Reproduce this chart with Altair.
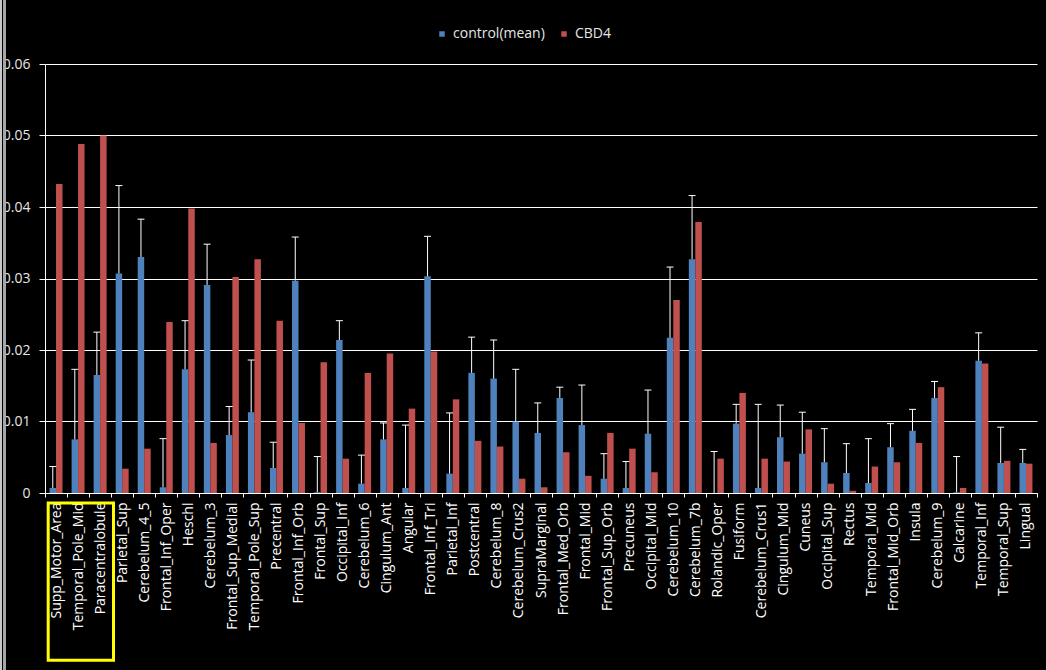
import altair as alt
import pandas as pd

regions = [
    "Supp_Motor_Area", "Temporal_Pole_Mid", "Paracentralobule", "Parietal_Sup",
    "Cerebelum_4_5", "Frontal_Inf_Oper", "Heschl", "Cerebelum_3",
    "Frontal_Sup_Medial", "Temporal_Pole_Sup", "Precentral", "Frontal_Inf_Orb",
    "Frontal_Sup", "Occipital_Inf", "Cerebelum_6", "Cingulum_Ant", "Angular",
    "Frontal_Inf_Tri", "Parietal_Inf", "Postcentral", "Cerebelum_8",
    "Cerebelum_Crus2", "SupraMarginal", "Frontal_Med_Orb", "Frontal_Mid",
    "Frontal_Sup_Orb", "Precuneus", "Occipital_Mid", "Cerebelum_10",
    "Cerebelum_7b", "Rolandic_Oper", "Fusiform", "Cerebelum_Crus1",
    "Cingulum_Mid", "Cuneus", "Occipital_Sup", "Rectus", "Temporal_Mid",
    "Frontal_Mid_Orb", "Insula", "Cerebelum_9", "Calcarine", "Temporal_Inf",
    "Temporal_Sup", "Lingual",
]

control_mean = [
    0.0007, 0.0075, 0.0165, 0.0307, 0.0330, 0.0008, 0.0173, 0.0291, 0.0081,
    0.0113, 0.0035, 0.0297, 0.0001, 0.0214, 0.0013, 0.0075, 0.0007, 0.0303,
    0.0027, 0.0168, 0.0160, 0.0100, 0.0084, 0.0133, 0.0095, 0.0020, 0.0007,
    0.0083, 0.0217, 0.0327, 0.0000, 0.0097, 0.0007, 0.0078, 0.0055, 0.0043,
    0.0028, 0.0014, 0.0064, 0.0087, 0.0133, 0.0001, 0.0185, 0.0042, 0.0042,
]

control_err_top = [
    0.0037, 0.0173, 0.0225, 0.0430, 0.0383, 0.0076, 0.0241, 0.0348, 0.0121,
    0.0186, 0.0071, 0.0358, 0.0051, 0.0241, 0.0053, 0.0098, 0.0095, 0.0359,
    0.0112, 0.0218, 0.0214, 0.0173, 0.0126, 0.0148, 0.0151, 0.0055, 0.0044,
    0.0144, 0.0316, 0.0416, 0.0058, 0.0124, 0.0124, 0.0123, 0.0113, 0.0090,
    0.0069, 0.0076, 0.0097, 0.0117, 0.0156, 0.0051, 0.0224, 0.0092, 0.0061,
]

cbd4 = [
    0.0432, 0.0488, 0.0500, 0.0034, 0.0062, 0.0239, 0.0398, 0.0070, 0.0302,
    0.0327, 0.0241, 0.0098, 0.0183, 0.0048, 0.0168, 0.0195, 0.0118, 0.0198,
    0.0131, 0.0073, 0.0065, 0.0020, 0.0008, 0.0057, 0.0024, 0.0084, 0.0062,
    0.0029, 0.0270, 0.0379, 0.0048, 0.0140, 0.0048, 0.0044, 0.0089, 0.0013,
    0.0003, 0.0037, 0.0043, 0.0070, 0.0148, 0.0007, 0.0181, 0.0045, 0.0041,
]

series_names = ["control(mean)", "CBD4"]
series_colors = ["#4f81bd", "#c0504d"]
y_ticks = [0, 0.01, 0.02, 0.03, 0.04, 0.05, 0.06]

rows = []
for i, r in enumerate(regions):
    rows.append({"region": r, "series": series_names[0], "value": control_mean[i]})
    rows.append({"region": r, "series": series_names[1], "value": cbd4[i]})
bars_df = pd.DataFrame(rows)

err_df = pd.DataFrame({
    "region": regions,
    "series": series_names[0],
    "value": control_mean,
    "top": control_err_top,
})

FONT = "Open Sans"

x_enc = alt.X(
    "region:N",
    sort=regions,
    title=None,
    scale=alt.Scale(paddingInner=0, paddingOuter=0),
    axis=alt.Axis(
        labelAngle=-90,
        labelColor="#ffffff",
        labelFont=FONT,
        labelFontSize=14,
        labelPadding=5,
        tickBand="extent",
        tickSize=4,
        tickColor="#ffffff",
        domainColor="#ffffff",
        grid=False,
        labelOverlap=False,
    ),
)
xoff_enc = alt.XOffset(
    "series:N",
    scale=alt.Scale(domain=series_names, paddingInner=0, paddingOuter=0.7),
)
y_scale = alt.Scale(domain=[0, 0.06], nice=False)

bars = alt.Chart(bars_df).mark_bar().encode(
    x=x_enc,
    xOffset=xoff_enc,
    y=alt.Y(
        "value:Q",
        title=None,
        scale=y_scale,
        axis=alt.Axis(
            values=y_ticks,
            format=".2~f",
            labelColor="#e6e6e6",
            labelFont=FONT,
            labelFontSize=14,
            labelPadding=9,
            tickSize=6,
            tickColor="#ffffff",
            domainColor="#ffffff",
            gridColor="#ffffff",
            gridWidth=1,
            gridOpacity=1,
        ),
    ),
    color=alt.Color(
        "series:N",
        scale=alt.Scale(domain=series_names, range=series_colors),
        legend=alt.Legend(
            title=None,
            orient="none",
            direction="horizontal",
            legendX=390,
            legendY=-37,
            symbolType="square",
            symbolSize=30,
            symbolStrokeWidth=0,
            labelColor="#e6e6e6",
            labelFont=FONT,
            labelFontSize=14,
            labelOffset=4,
            columnPadding=12,
        ),
    ),
)

err_rule = alt.Chart(err_df).mark_rule(color="#ffffff", strokeWidth=1).encode(
    x=alt.X("region:N", sort=regions),
    xOffset=xoff_enc,
    y=alt.Y("value:Q", scale=y_scale),
    y2="top:Q",
)

err_cap = alt.Chart(err_df).mark_tick(color="#ffffff", size=7, thickness=1, opacity=1).encode(
    x=alt.X("region:N", sort=regions),
    xOffset=xoff_enc,
    y=alt.Y("top:Q", scale=y_scale),
)

frame_df = pd.DataFrame({"note": ["highlight"]})
highlight = alt.Chart(frame_df).mark_rect(
    fill=None, stroke="#ffff00", strokeWidth=3
).encode(
    x=alt.value(3.2), x2=alt.value(68.5), y=alt.value(439), y2=alt.value(596.3)
)

border_light = alt.Chart(frame_df).mark_rect(color="#c8c8c8").encode(
    x=alt.value(-45), x2=alt.value(-43), y=alt.value(-64), y2=alt.value(606)
)
border_gray = alt.Chart(frame_df).mark_rect(color="#a6a6a6").encode(
    x=alt.value(-42), x2=alt.value(-39), y=alt.value(-64), y2=alt.value(606)
)

chart = alt.layer(
    bars, err_rule, err_cap, highlight, border_light, border_gray
).properties(
    width=992,
    height=429,
    autosize=alt.AutoSizeParams(type="none"),
    padding={"left": 45, "top": 64, "right": 9, "bottom": 177},
    background="#000000",
).configure_view(stroke=None)

chart.save("out.html", embed_options={"renderer": "svg", "actions": False})
